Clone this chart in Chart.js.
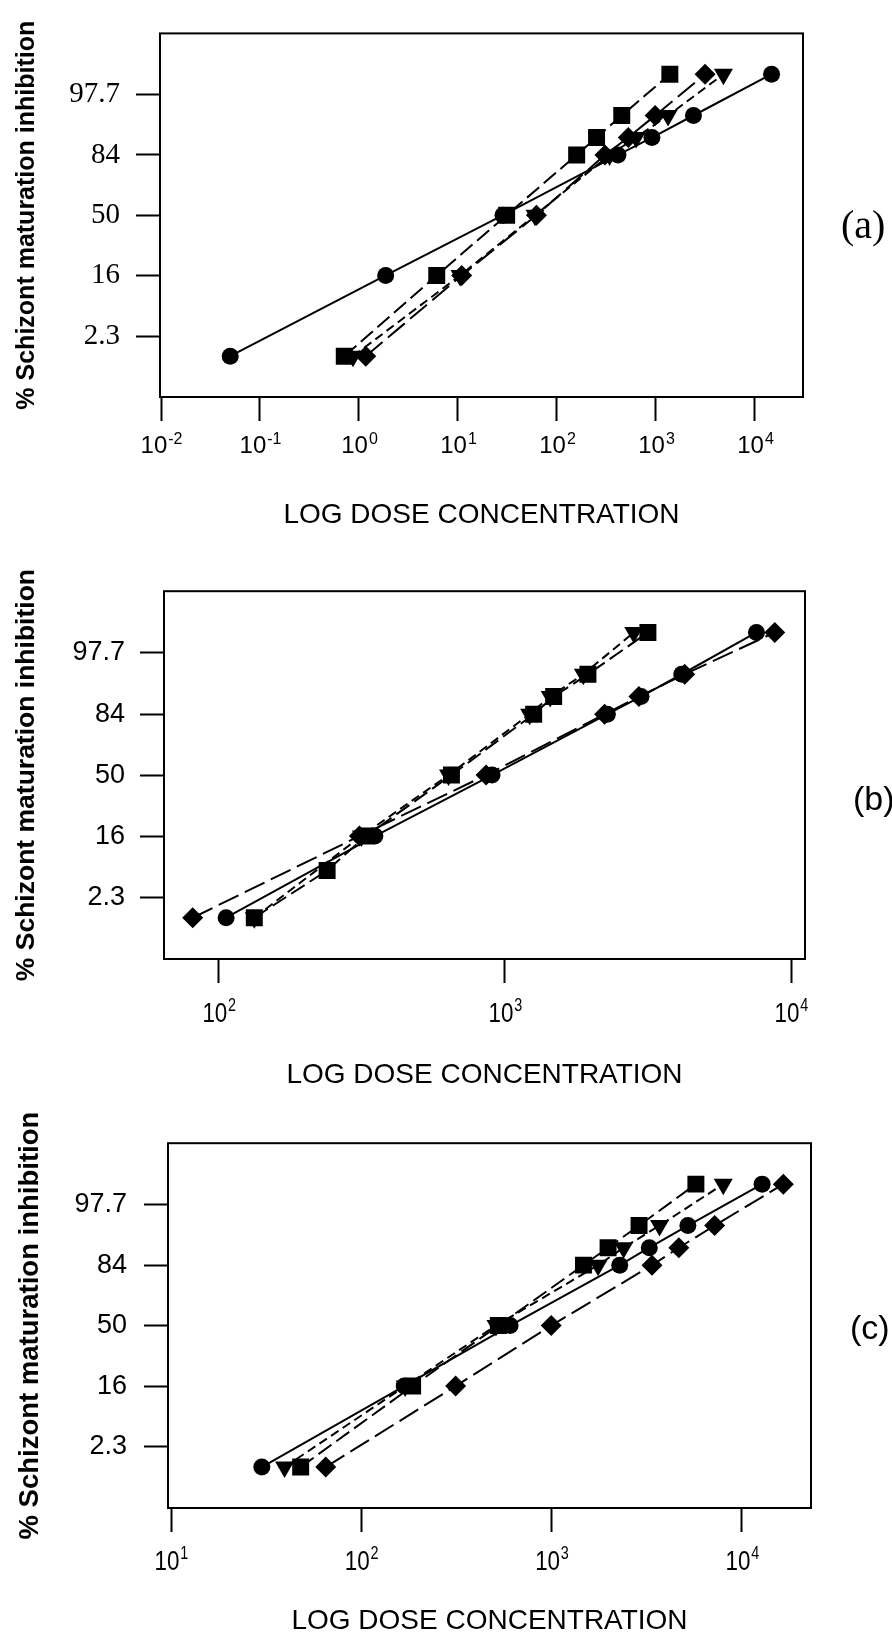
<!DOCTYPE html>
<html>
<head>
<meta charset="utf-8">
<title>Schizont maturation inhibition</title>
<script src="https://cdn.jsdelivr.net/npm/chart.js@4.4.0/dist/chart.umd.min.js"></script>
<style>
  body { margin: 0; background: #fff; }
  #page { position: relative; width: 892px; height: 1641px; overflow: hidden; background: #fff; }
  .panel { position: absolute; left: 0; }
  .tag { position: absolute; color: #000; line-height: 1; white-space: nowrap; }
</style>
</head>
<body>
<div id="page">
  <div class="panel" style="top:0px"><canvas id="chartA" width="892" height="540"></canvas></div>
  <div class="panel" style="top:560px"><canvas id="chartB" width="892" height="540"></canvas></div>
  <div class="panel" style="top:1110px"><canvas id="chartC" width="892" height="531"></canvas></div>
  <div class="tag" style="left:841px;top:201px;font:40px 'Liberation Serif'">(a)</div>
  <div class="tag" style="left:853px;top:779px;font:34px 'Liberation Sans'">(b)</div>
  <div class="tag" style="left:850px;top:1308px;font:34px 'Liberation Sans'">(c)</div>
</div>
<script>
// % inhibition levels for each row of points
const rows = [1, 16, 50, 84, 90, 95, 99];

// panel (a) doses
const aCircle  = [0.05, 1.86, 28.5, 413, 910, 2390, 14700];
const aSquare  = [0.71, 6.1, 31, 158, 251, 451, 1380];
const aTri     = [0.87, 10.5, 60, 340, 630, 1325, 4800];
const aDiamond = [1.17, 10.9, 62, 305, 525, 980, 3130];

// panel (b) doses
const bCircle  = [106, 351, 901, 2280, 2990, 4150, 7570];
const bDiamond = [81, 310, 859, 2230, 2940, 4250, 8770];
const bTri     = [133, 315, 635, 1220, 1440, 1880, 2820];
const bSquare  = [133, 239, 327, 650, 1260, 1480, 1950, 3160];
const bSquareRows = [1, 6, 16, 50, 84, 90, 95, 99];

// panel (c) doses
const cCircle  = [30, 168, 605, 2280, 3260, 5200, 12770];
const cTri     = [39.5, 170, 510, 1755, 2390, 3690, 7980];
const cSquare  = [48, 186, 525, 1470, 1980, 2880, 5730];
const cDiamond = [65, 313, 995, 3370, 4660, 7190, 16500];

// axis ticks
const yTicks = [2.3, 16, 50, 84, 97.7];
const xTicksA = [0.01, 0.1, 1, 10, 100, 1000, 10000];
const xExpA = ['-2', '-1', '0', '1', '2', '3', '4'];
const xTicksB = [100, 1000, 10000];
const xExpB = ['2', '3', '4'];
const xTicksC = [10, 100, 1000, 10000];
const xExpC = ['1', '2', '3', '4'];

// inverse normal (probit scale), Abramowitz & Stegun 26.2.23
function probit(p) {
  const q = p < 0.5 ? p : 1 - p;
  const t = Math.sqrt(-2 * Math.log(q));
  const z = t - (2.515517 + 0.802853 * t + 0.010328 * t * t) /
    (1 + 1.432788 * t + 0.189269 * t * t + 0.001308 * t * t * t);
  return p < 0.5 ? -z : z;
}

const shapes = {
  circle:  { style: 'circle',   r: 8.5, rot: 0,   dash: [] },
  square:  { style: 'rect',     r: 12,  rot: 0,   dash: [16, 6] },
  tri:     { style: 'triangle', r: 11,  rot: 180, dash: [9, 5] },
  diamond: { style: 'rectRot',  r: 10.5, rot: 0,  dash: [22, 7] }
};

function series(xs, ys, shape) {
  return {
    data: xs.map((x, i) => ({ x: x, y: probit(ys[i] / 100) })),
    showLine: true,
    borderColor: '#000',
    backgroundColor: '#000',
    borderWidth: 2,
    borderDash: shape.dash,
    pointStyle: shape.style,
    pointRadius: shape.r,
    pointHoverRadius: shape.r,
    pointRotation: shape.rot,
    pointBackgroundColor: '#000',
    pointBorderColor: '#000',
    pointBorderWidth: 0
  };
}

// box round the plot area
const frame = {
  id: 'frame',
  beforeDatasetsDraw(chart) {
    const { ctx, chartArea: a } = chart;
    ctx.save();
    ctx.strokeStyle = '#000';
    ctx.lineWidth = 2;
    ctx.strokeRect(a.left, a.top, a.right - a.left, a.bottom - a.top);
    ctx.restore();
  }
};

// "10" with a raised exponent under each x tick
const powerLabels = {
  id: 'powerLabels',
  afterDraw(chart, args, o) {
    const s = chart.scales.x;
    const ctx = chart.ctx;
    const y = s.top + o.baseline;
    ctx.save();
    ctx.fillStyle = '#000';
    ctx.textBaseline = 'alphabetic';
    ctx.textAlign = 'left';
    o.values.forEach((v, i) => {
      const x = s.getPixelForValue(v);
      ctx.font = o.size + 'px ' + o.family;
      const w1 = ctx.measureText('10').width;
      ctx.font = o.supSize + 'px ' + o.family;
      const w2 = ctx.measureText(o.exps[i]).width;
      ctx.save();
      ctx.translate(x - (w1 + w2) * o.squeeze / 2, y);
      ctx.scale(o.squeeze, 1);
      ctx.font = o.size + 'px ' + o.family;
      ctx.fillText('10', 0, 0);
      ctx.font = o.supSize + 'px ' + o.family;
      ctx.fillText(o.exps[i], w1 + 1, -o.raise);
      ctx.restore();
    });
    ctx.restore();
  }
};

function buildChart(id, cfg) {
  return new Chart(document.getElementById(id), {
    type: 'scatter',
    data: { datasets: cfg.datasets },
    options: {
      responsive: false,
      animation: false,
      events: [],
      layout: { padding: { top: cfg.top, right: cfg.right, left: 0, bottom: 0 } },
      plugins: {
        legend: { display: false },
        tooltip: { enabled: false },
        powerLabels: cfg.labels
      },
      scales: {
        x: {
          type: 'logarithmic',
          min: cfg.xMin,
          max: cfg.xMax,
          afterFit: s => { s.height = cfg.xHeight; },
          afterBuildTicks: s => { s.ticks = cfg.labels.values.map(v => ({ value: v })); },
          ticks: { display: false },
          grid: { drawOnChartArea: false, tickLength: 24, tickWidth: 2, tickColor: '#000' },
          border: { display: false },
          title: {
            display: true, text: 'LOG DOSE CONCENTRATION', color: '#000',
            font: { family: 'Liberation Sans', size: 28 },
            padding: { top: 0, bottom: cfg.titlePad }
          }
        },
        y: {
          type: 'linear',
          min: -3,
          max: 3,
          afterFit: s => { s.width = cfg.left; },
          afterBuildTicks: s => { s.ticks = yTicks.map(v => ({ value: probit(v / 100) })); },
          ticks: {
            padding: cfg.yPad, color: '#000', font: cfg.yFont,
            callback: (v, i) => String(yTicks[i])
          },
          grid: { drawOnChartArea: false, tickLength: 24, tickWidth: 2, tickColor: '#000' },
          border: { display: false },
          title: {
            display: true, text: '% Schizont maturation inhibition', color: '#000',
            font: { family: 'Liberation Sans', size: cfg.yTitleSize, weight: 'bold' },
            padding: { top: cfg.yTitlePad, bottom: 0 }
          }
        }
      }
    },
    plugins: [frame, powerLabels]
  });
}

buildChart('chartA', {
  datasets: [
    series(aCircle, rows, shapes.circle),
    series(aSquare, rows, shapes.square),
    series(aTri, rows, shapes.tri),
    series(aDiamond, rows, shapes.diamond)
  ],
  top: 30, right: 89, left: 160, xHeight: 143,
  xMin: 0.00977, xMax: 30550,
  labels: { values: xTicksA, exps: xExpA, family: 'Liberation Sans', size: 24, supSize: 16,
            squeeze: 1, baseline: 56, raise: 9 },
  titlePad: 8,
  yPad: 16, yFont: { family: 'Liberation Serif', size: 29 },
  yTitleSize: 25, yTitlePad: 12
});

buildChart('chartB', {
  datasets: [
    series(bCircle, rows, shapes.circle),
    series(bSquare, bSquareRows, shapes.square),
    series(bTri, rows, shapes.tri),
    series(bDiamond, rows, shapes.diamond)
  ],
  top: 31, right: 87, left: 164, xHeight: 141,
  xMin: 64.3, xMax: 11190,
  labels: { values: xTicksB, exps: xExpB, family: 'Liberation Sans', size: 28, supSize: 18,
            squeeze: 0.8, baseline: 63, raise: 11 },
  titlePad: 8,
  yPad: 15, yFont: { family: 'Liberation Sans', size: 27 },
  yTitleSize: 26.5, yTitlePad: 11
});

buildChart('chartC', {
  datasets: [
    series(cCircle, rows, shapes.circle),
    series(cSquare, rows, shapes.square),
    series(cTri, rows, shapes.tri),
    series(cDiamond, rows, shapes.diamond)
  ],
  top: 31, right: 81, left: 168, xHeight: 133,
  xMin: 9.64, xMax: 23070,
  labels: { values: xTicksC, exps: xExpC, family: 'Liberation Sans', size: 28, supSize: 18,
            squeeze: 0.8, baseline: 62, raise: 11 },
  titlePad: 3,
  yPad: 17, yFont: { family: 'Liberation Sans', size: 27 },
  yTitleSize: 27.5, yTitlePad: 14
});
</script>
</body>
</html>
